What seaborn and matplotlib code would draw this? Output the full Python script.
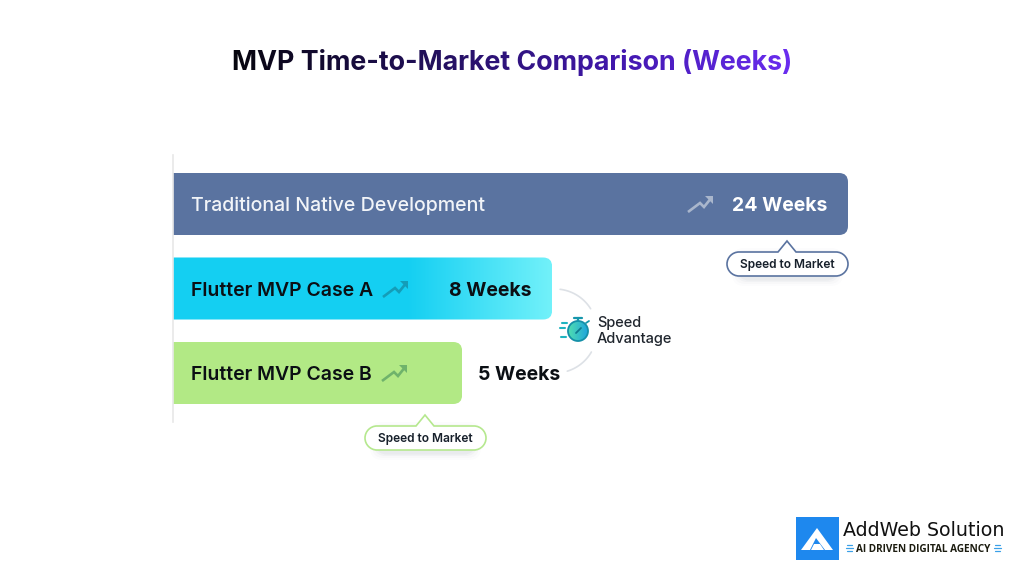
import numpy as np
import pandas as pd
import matplotlib
matplotlib.use('Agg')
import matplotlib.pyplot as plt
import seaborn as sns
from matplotlib.path import Path
from matplotlib.patches import PathPatch, Polygon, Circle, Rectangle, FancyBboxPatch
from matplotlib.colors import to_rgb

# Chart values
routes = ['Traditional Native Development', 'Flutter MVP Case A', 'Flutter MVP Case B']
weeks = [24, 8, 5]
# the bars in the picture are not to scale with the weeks, so lengths are read off separately
drawn_lengths = [24.0, 13.48, 10.28]
bar_colors = ['#5A73A0', '#14CFF2', '#B2E985']
name_colors = ['#F1F4F8', '#0B0F14', '#0B0F14']
value_colors = ['#FFFFFF', '#0B0F14', '#0B0F14']
callout_text = 'Speed to Market'
advantage_text = 'Speed\nAdvantage'
title_text = 'MVP Time-to-Market Comparison (Weeks)'

FONT = 'Inter'


def h_gradient(stops):
    # agg filter that repaints an artist with a left to right colour ramp
    pos = [s[0] for s in stops]
    cols = np.array([to_rgb(s[1]) for s in stops])

    def apply(img, dpi):
        xs = np.linspace(0, 1, img.shape[1])
        out = img.copy()
        for c in range(3):
            out[:, :, c] = np.interp(xs, pos, cols[:, c])
        return out, 0, 0
    return apply


def right_rounded(x0, x1, y0, y1, rx, ry):
    verts = [(x0, y0), (x1 - rx, y0), (x1, y0), (x1, y0 + ry), (x1, y1 - ry),
             (x1, y1), (x1 - rx, y1), (x0, y1), (x0, y0)]
    codes = [Path.MOVETO, Path.LINETO, Path.CURVE3, Path.CURVE3, Path.LINETO,
             Path.CURVE3, Path.CURVE3, Path.LINETO, Path.CLOSEPOLY]
    return Path(verts, codes)


def trend_icon(pa, x, y, color, alpha=1.0):
    # x, y is the lower left end of the arrow line
    pa.plot([x, x + 12, x + 16, x + 24], [y, y - 9, y - 5, y - 15], color=color, alpha=alpha,
            lw=1.9, solid_joinstyle='miter', solid_capstyle='butt')
    pa.add_patch(Polygon([(x + 17, y - 16), (x + 25, y - 16), (x + 25, y - 8)],
                         closed=True, fc=color, ec='none', alpha=alpha))


def callout(pa, x0, x1, y0, y1, apex_x, apex_y, edge):
    # soft shadow first
    for grow, a in [(7, 0.012), (5, 0.02), (3, 0.03), (1.5, 0.04)]:
        pa.add_patch(FancyBboxPatch((x0 + 12 - grow, y0 + 3 - grow), x1 - x0 - 24 + 2 * grow,
                                    y1 - y0 + 2 * grow,
                                    boxstyle='round,pad=0,rounding_size=12', fc='#30405A', ec='none', alpha=a))
    r = (y1 - y0) / 2
    k = 0.55 * r
    verts = [(x0 + r, y0), (apex_x - 9, y0), (apex_x, apex_y), (apex_x + 9, y0), (x1 - r, y0),
             (x1 - r + k, y0), (x1, y0 + r - k), (x1, y0 + r),
             (x1, y0 + r + k), (x1 - r + k, y1), (x1 - r, y1),
             (x0 + r, y1),
             (x0 + r - k, y1), (x0, y1 - r + k), (x0, y1 - r),
             (x0, y0 + r - k), (x0 + r - k, y0), (x0 + r, y0), (x0 + r, y0)]
    codes = [Path.MOVETO, Path.LINETO, Path.LINETO, Path.LINETO, Path.LINETO,
             Path.CURVE4, Path.CURVE4, Path.CURVE4,
             Path.CURVE4, Path.CURVE4, Path.CURVE4,
             Path.LINETO,
             Path.CURVE4, Path.CURVE4, Path.CURVE4,
             Path.CURVE4, Path.CURVE4, Path.CURVE4, Path.CLOSEPOLY]
    pa.add_patch(PathPatch(Path(verts, codes), fc='white', ec=edge, lw=1.2))
    pa.text((x0 + x1) / 2, (y0 + y1) / 2 + 1, callout_text, ha='center', va='center',
            fontsize=8.6, fontweight='semibold', color='#17202B', family=FONT)


def draw_stopwatch(pa):
    cx, cy = 578, 331
    face = Circle((cx, cy), 10, fc='#35C8CE', ec='none')
    pa.add_patch(face)
    face.set_agg_filter(h_gradient([(0, '#4FDDB0'), (1, '#1FA6DC')]))
    pa.add_patch(Circle((cx, cy), 10, fc='none', ec='#1590A8', lw=1.3))
    pa.plot([cx - 2, cx + 3], [cy + 2, cy - 3], color='#0F7A8E', lw=1.3)
    pa.plot([cx, cx], [cy - 10, cy - 13], color='#1596AC', lw=1.6)
    pa.plot([cx - 4, cx + 4], [cy - 13.5, cy - 13.5], color='#1596AC', lw=1.6)
    pa.plot([cx + 8, cx + 11], [cy - 8, cy - 10], color='#1596AC', lw=1.3)
    for y, x0, x1 in [(323, 562, 567), (328, 560, 565), (337, 561, 566)]:
        pa.plot([x0, x1], [y, y], color='#1FB4BF', lw=1.5)


def draw_logo(pa):
    pa.add_patch(Rectangle((796, 517), 43, 43, fc='#1E88EE', ec='none'))
    pa.add_patch(Polygon([(817, 528), (833, 550), (801, 550)], closed=True, fc='white', ec='none'))
    pa.add_patch(Polygon([(816, 538), (825, 550), (810, 550)], closed=True, fc='#1E88EE', ec='none'))
    pa.add_patch(Polygon([(814, 544), (820, 544), (824, 550), (811, 550)], closed=True, fc='white', ec='none'))
    pa.text(843, 531, 'AddWeb Solution', fontsize=13.7, color='#111111', family='DejaVu Sans',
            va='center', ha='left')
    pa.text(856, 549, 'AI DRIVEN DIGITAL AGENCY', fontsize=7.2, fontweight='bold', color='#1C1C10',
            family='Open Sans', va='center', ha='left')
    for x0, x1 in [(846, 853), (994, 1001)]:
        for dy, trim in [(-3, 1), (0, 0), (3, 1)]:
            pa.plot([x0 + trim, x1 - trim], [548 + dy, 548 + dy], color='#3AA0E8', lw=0.9)


def main():
    sns.set_theme(style='white')
    plt.rcParams['font.family'] = [FONT, 'DejaVu Sans']

    fig = plt.figure(figsize=(10.24, 5.76), dpi=100, facecolor='white')

    # bar axes sits at the pixel box of the reference: x 173-848, y 155-422
    ax = fig.add_axes([173 / 1024, 1 - 422 / 576, 675 / 1024, 267 / 576])
    df = pd.DataFrame({'route': routes, 'length': drawn_lengths})
    sns.barplot(data=df, x='length', y='route', hue='route', palette=bar_colors, saturation=1,
                legend=False, width=0.734, ax=ax)
    ax.set_xlim(0, 24)
    ax.set_ylim(2.58, -0.58)
    ax.set_xlabel('')
    ax.set_ylabel('')
    ax.set_xticks([])
    ax.set_yticks([])
    sns.despine(ax=ax, top=True, right=True, bottom=True, left=False)
    ax.spines['left'].set_color('#E8E8E8')
    ax.spines['left'].set_linewidth(1.2)
    ax.patch.set_alpha(0)

    # rounded right corners, and the light end of the cyan bar
    rx, ry = 9 * 24 / 675, 9 * 3.16 / 267
    for i, bar in enumerate(ax.patches[:3]):
        x0, y0 = bar.get_x(), bar.get_y()
        clip = PathPatch(right_rounded(x0, x0 + bar.get_width(), y0, y0 + bar.get_height(), rx, ry),
                         transform=ax.transData)
        bar.set_clip_path(clip)
        bar.set_linewidth(0)
    ax.patches[1].set_agg_filter(h_gradient([(0, '#14CFF2'), (0.62, '#14CFF2'), (1, '#72F1FA')]))

    # labels on the bars, nudged down to sit on the bar centre
    name_sizes = [14.1, 14.0, 14.0]
    name_weights = ['medium', 'semibold', 'semibold']
    for i, route in enumerate(routes):
        ax.annotate(route, xy=(0, i), xytext=(18, -2), textcoords='offset pixels', ha='left', va='center',
                    fontsize=name_sizes[i], fontweight=name_weights[i], color=name_colors[i], family=FONT)
        label = f'{weeks[i]} Weeks'
        if i < 2:
            ax.annotate(label, xy=(drawn_lengths[i], i), xytext=(-21, -2), textcoords='offset pixels',
                        ha='right', va='center', fontsize=14.0, fontweight='bold',
                        color=value_colors[i], family=FONT)
        else:
            ax.annotate(label, xy=(drawn_lengths[i], i), xytext=(16, -2), textcoords='offset pixels',
                        ha='left', va='center', fontsize=14.0, fontweight='bold',
                        color=value_colors[i], family=FONT)

    # overlay in reference pixels for the decorations
    pa = fig.add_axes([0, 0, 1, 1], zorder=5)
    pa.set_xlim(0, 1024)
    pa.set_ylim(576, 0)
    pa.axis('off')

    trend_icon(pa, 688, 212, '#A9B6CC')
    trend_icon(pa, 383, 297, '#149DB8')
    trend_icon(pa, 382, 381, '#6FB36B')

    callout(pa, 727, 848, 252, 276, 787, 241, '#5A73A0')
    callout(pa, 365, 486, 426, 450, 425, 415, '#B5E88E')

    # arcs around the speed advantage mark
    for a0, a1 in [(-83, -32), (30, 73)]:
        t = np.radians(np.linspace(a0, a1, 40))
        pa.plot(555 + 42 * np.cos(t), 331 + 42 * np.sin(t), color='#DDE1E6', lw=1.2)
    draw_stopwatch(pa)
    pa.text(597, 331, advantage_text, ha='left', va='center', fontsize=10.5, fontweight='medium',
            color='#20262E', linespacing=1.2, family=FONT)

    draw_logo(pa)

    title = fig.text(512 / 1024, 1 - 62 / 576, title_text, ha='center', va='center', fontsize=19.3,
                     fontweight='bold', family=FONT, color='black')
    title.set_agg_filter(h_gradient([(0, '#07060E'), (0.35, '#22105A'), (0.7, '#4318B0'), (1, '#6A2DF0')]))

    fig.savefig('out.png', dpi=100)
    plt.close(fig)


if __name__ == '__main__':
    main()
